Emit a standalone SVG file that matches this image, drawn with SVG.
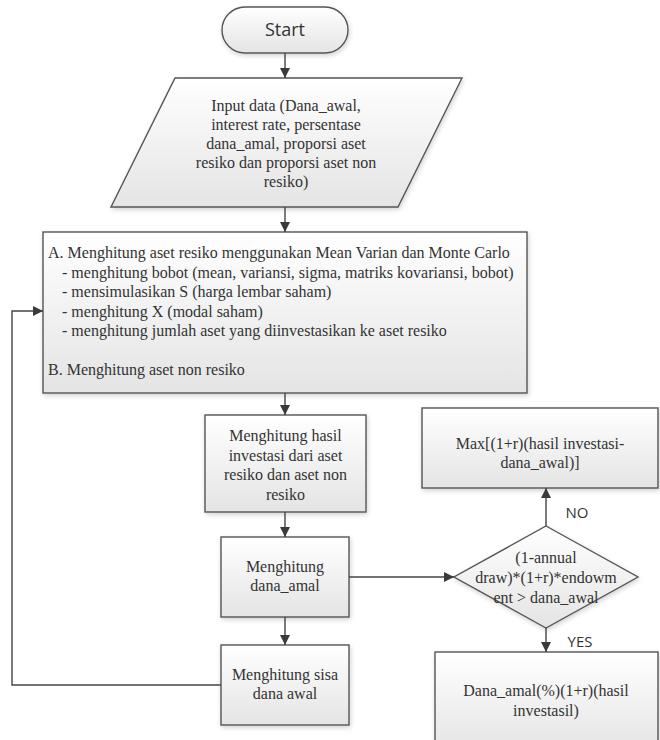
<svg xmlns="http://www.w3.org/2000/svg" width="660" height="740" viewBox="0 0 660 740">
<defs>
<linearGradient id="g" x1="0" y1="0" x2="0" y2="1">
<stop offset="0" stop-color="#ffffff"/>
<stop offset="1" stop-color="#e4e4e4"/>
</linearGradient>
<filter id="sh" x="-10%" y="-10%" width="120%" height="130%">
<feGaussianBlur in="SourceAlpha" stdDeviation="2.5"/>
<feOffset dx="1" dy="2" result="b"/>
<feComponentTransfer><feFuncA type="linear" slope="0.18"/></feComponentTransfer>
<feMerge><feMergeNode/><feMergeNode in="SourceGraphic"/></feMerge>
</filter>
<marker id="ah" viewBox="0 0 10 10" refX="10" refY="5" markerWidth="10" markerHeight="10" markerUnits="userSpaceOnUse" orient="auto">
<path d="M0,0 L10,5 L0,10 z" fill="#3a3a3a"/>
</marker>
</defs>
<style>
.n{fill:url(#g);stroke:#555;stroke-width:1.4;filter:url(#sh)}
.t{font-family:'Liberation Serif','Times New Roman',Tinos,'DejaVu Serif',serif;font-size:16px;fill:#333}
.c{text-anchor:middle}
.s{font-family:'Open Sans','Noto Sans',sans-serif;fill:#333}
.e{fill:none;stroke:#444;stroke-width:1.4;marker-end:url(#ah)}
.l{fill:none;stroke:#444;stroke-width:1.4}
</style>
<g id="start">
<rect class="n" x="222" y="7" width="126" height="46" rx="23" ry="23"/>
<text class="s c" x="285" y="36" font-size="18">Start</text>
</g>
<g id="input">
<polygon class="n" points="175,78 462,78 398,207 111,207"/>
<text class="t c" x="286" y="111" font-family="Liberation Serif, Times New Roman, serif">Input data (Dana_awal,</text>
<text class="t c" x="286" y="130" font-family="Liberation Serif, Times New Roman, serif">interest rate, persentase</text>
<text class="t c" x="286" y="149" font-family="Liberation Serif, Times New Roman, serif">dana_amal, proporsi aset</text>
<text class="t c" x="286" y="168" font-family="Liberation Serif, Times New Roman, serif">resiko dan proporsi aset non</text>
<text class="t c" x="286" y="187" font-family="Liberation Serif, Times New Roman, serif">resiko)</text>
</g>
<g id="hitung-aset">
<rect class="n" x="43" y="232" width="484" height="161"/>
<text class="t" x="48" y="258">A. Menghitung aset resiko menggunakan Mean Varian dan Monte Carlo</text>
<text class="t" x="62" y="277.5">- menghitung bobot (mean, variansi, sigma, matriks kovariansi, bobot)</text>
<text class="t" x="62" y="297">- mensimulasikan S (harga lembar saham)</text>
<text class="t" x="62" y="316.5">- menghitung X (modal saham)</text>
<text class="t" x="62" y="336">- menghitung jumlah aset yang diinvestasikan ke aset resiko</text>
<text class="t" x="48" y="375">B. Menghitung aset non resiko</text>
</g>
<g id="hasil">
<rect class="n" x="205" y="415" width="161" height="97"/>
<text class="t c" x="285.5" y="441">Menghitung hasil</text>
<text class="t c" x="285.5" y="460.5">investasi dari aset</text>
<text class="t c" x="285.5" y="480">resiko dan aset non</text>
<text class="t c" x="285.5" y="499.5">resiko</text>
</g>
<g id="dana-amal">
<rect class="n" x="221" y="537" width="128" height="80"/>
<text class="t c" x="285" y="572">Menghitung</text>
<text class="t c" x="285" y="591">dana_amal</text>
</g>
<g id="sisa">
<rect class="n" x="221" y="645" width="128" height="80"/>
<text class="t c" x="285" y="680">Menghitung sisa</text>
<text class="t c" x="285" y="699">dana awal</text>
</g>
<g id="max">
<rect class="n" x="422" y="408" width="236" height="80"/>
<text class="t c" x="540" y="449">Max[(1+r)(hasil investasi-</text>
<text class="t c" x="540" y="468">dana_awal)]</text>
</g>
<g id="kondisi">
<polygon class="n" points="546,526 638,577 546,628 454,577"/>
<text class="t c" x="546" y="563">(1-annual</text>
<text class="t c" x="546" y="583">draw)*(1+r)*endowm</text>
<text class="t c" x="546" y="603">ent &gt; dana_awal</text>
</g>
<g id="dana-persen">
<rect class="n" x="435" y="652" width="223" height="100"/>
<text class="t c" x="546" y="696">Dana_amal(%)(1+r)(hasil</text>
<text class="t c" x="546" y="716">investasil)</text>
</g>
<g id="connectors">
<path class="e" d="M285,53 V78"/>
<path class="e" d="M285,207 V232"/>
<path class="e" d="M285,393 V415"/>
<path class="e" d="M285,512 V537"/>
<path class="e" d="M285,617 V645"/>
<path class="e" d="M349,577 H454"/>
<path class="e" d="M546,526 V488"/>
<path class="e" d="M546,628 V652"/>
<path class="e" d="M221,685 H12 V311 H43"/>
<text class="s c" x="577" y="518" font-size="15">NO</text>
<text class="s c" x="580" y="647" font-size="15">YES</text>
</g>
</svg>
